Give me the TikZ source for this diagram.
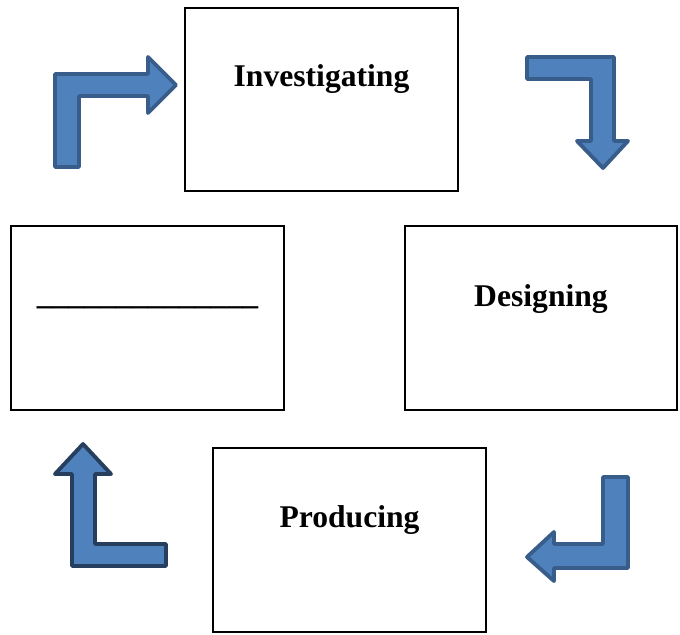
\documentclass[tikz,border=0pt]{standalone}
\usepackage{fontspec}
\setmainfont{Liberation Serif}
\usepackage{tikz}

\definecolor{arrowfill}{HTML}{4F81BD}
\definecolor{arrowline}{HTML}{385D8A}
\definecolor{arrowdark}{HTML}{263F5E}

\tikzset{
    stagebox/.style={draw, line width=1.1pt, inner sep=0pt},
    stagetext/.style={font=\fontsize{18}{20}\selectfont\bfseries, anchor=base},
    bentarrow/.style={fill=arrowfill, draw=arrowline, line width=2.2pt, line join=round}
}

\begin{document}
\begin{tikzpicture}[x=0.02cm, y=-0.02cm]
\useasboundingbox (0, 0) rectangle (680, 635);

% Draw the stage boxes.
\node[stagebox, minimum width=273*0.02cm, minimum height=183*0.02cm] (inv) at (321.5, 99.5) {};
\node[stagebox, minimum width=272*0.02cm, minimum height=184*0.02cm] (des) at (541, 318) {};
\node[stagebox, minimum width=273*0.02cm, minimum height=184*0.02cm] (pro) at (349.5, 540) {};
\node[stagebox, minimum width=273*0.02cm, minimum height=184*0.02cm] (eva) at (147.5, 318) {};

% Write the stage names.
\node[stagetext] (invtext) at (321.5, 87) {Investigating};
\node[stagetext] (destext) at (541, 306) {Designing};
\node[stagetext] (protext) at (349.5, 527) {Producing};
\node[stagetext] (evatext) at (147.5, 304) {\_\_\_\_\_\_\_\_\_\_\_\_\_\_};

% Draw the bent arrows between the stages.
\draw[bentarrow] (55, 167) -- (55, 74) -- (148, 74) -- (148, 57) -- (176, 85)
    -- (148, 113) -- (148, 96) -- (79, 96) -- (79, 167) -- cycle;
\draw[bentarrow] (527, 57) -- (614, 57) -- (614, 141) -- (628, 141) -- (603, 168)
    -- (577, 141) -- (591, 141) -- (591, 79) -- (527, 79) -- cycle;
\draw[bentarrow] (628, 477) -- (628, 568) -- (554, 568) -- (554, 581) -- (527, 557)
    -- (554, 532) -- (554, 544) -- (603, 544) -- (603, 477) -- cycle;
\draw[bentarrow, draw=arrowdark] (72, 566) -- (72, 474) -- (55, 474) -- (83, 444)
    -- (111, 474) -- (95, 474) -- (95, 544) -- (166, 544) -- (166, 566) -- cycle;

\end{tikzpicture}
\end{document}
